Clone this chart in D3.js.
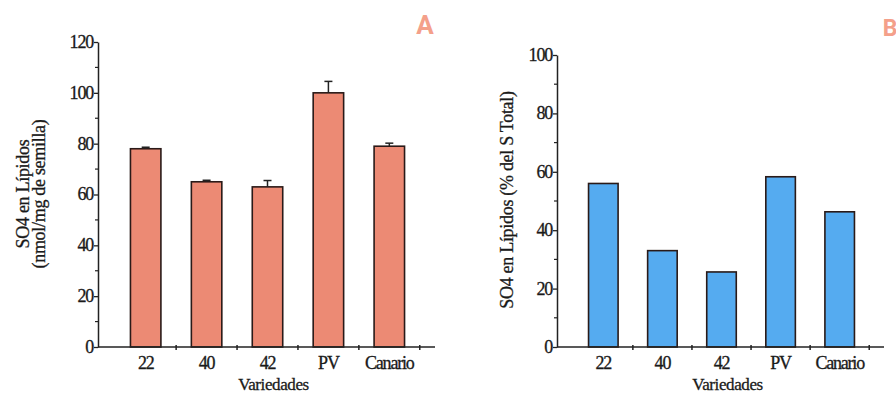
<!DOCTYPE html>
<html>
<head>
<meta charset="utf-8">
<script src="https://cdn.jsdelivr.net/npm/d3@7"></script>
<style>
  body { margin: 0; background: #fff; }
  svg text { font-family: "Liberation Serif", "DejaVu Serif", serif; fill: #1a1a1a; }
</style>
</head>
<body>
<svg id="chart" width="896" height="396"></svg>
<script>
// datos
const variedades = ['22', '40', '42', 'PV', 'Canario'];
const lipidosNmol = [78, 65, 63, 100, 79];     // panel A
const lipidosErr = [0.6, 0.6, 2.5, 4.5, 1.2];
const lipidosPct = [56, 33, 25.7, 58.3, 46.3]; // panel B
const ticksA = [0, 20, 40, 60, 80, 100, 120];
const ticksB = [0, 20, 40, 60, 80, 100];

const svg = d3.select('#chart');

function panel(opt) {
  const g = svg.append('g');
  const x = d3.scaleBand().domain(variedades).range([opt.x0, opt.x1]).padding(0.5);
  const y = d3.scaleLinear().domain([0, opt.max]).range([347, opt.yTop]);

  // barras
  g.selectAll('rect.bar')
    .data(opt.values)
    .join('rect')
    .attr('class', 'bar')
    .attr('x', (d, i) => x(variedades[i]))
    .attr('width', x.bandwidth())
    .attr('y', d => y(d))
    .attr('height', d => y(0) - y(d))
    .attr('fill', opt.color)
    .attr('stroke', '#2a1a18')
    .attr('stroke-width', 1.6);

  // barras de error
  if (opt.err) {
    const eb = g.selectAll('g.err').data(opt.values).join('g').attr('class', 'err');
    eb.append('line')
      .attr('x1', (d, i) => x(variedades[i]) + x.bandwidth() / 2)
      .attr('x2', (d, i) => x(variedades[i]) + x.bandwidth() / 2)
      .attr('y1', d => y(d))
      .attr('y2', (d, i) => y(d + opt.err[i]))
      .attr('stroke', '#222').attr('stroke-width', 1.5);
    eb.append('line')
      .attr('x1', (d, i) => x(variedades[i]) + x.bandwidth() / 2 - 4)
      .attr('x2', (d, i) => x(variedades[i]) + x.bandwidth() / 2 + 4)
      .attr('y1', (d, i) => y(d + opt.err[i]))
      .attr('y2', (d, i) => y(d + opt.err[i]))
      .attr('stroke', '#222').attr('stroke-width', 1.5);
  }

  // eje y
  const yAxis = g.append('g').attr('transform', `translate(${opt.x0 - 2},0)`)
    .call(d3.axisLeft(y).tickValues(opt.ticks).tickSize(4).tickSizeOuter(0));
  yAxis.select('.domain').attr('stroke', '#222').attr('stroke-width', 1.5);
  yAxis.selectAll('.tick line').attr('stroke', '#222').attr('stroke-width', 1.3);
  yAxis.selectAll('.tick text')
    .attr('x', -5)
    .attr('dy', '0.3em')
    .attr('font-size', 18)
    .attr('letter-spacing', -1.2)
    .attr('stroke', '#1a1a1a').attr('stroke-width', 0.3);
  // marcas menores
  const minor = d3.range(10, opt.max, 20);
  yAxis.selectAll('line.minor').data(minor).join('line')
    .attr('class', 'minor')
    .attr('x1', -3).attr('x2', 0)
    .attr('y1', d => y(d)).attr('y2', d => y(d))
    .attr('stroke', '#222').attr('stroke-width', 1.2);

  // eje x
  g.append('line')
    .attr('x1', opt.x0 - 2).attr('x2', opt.x1)
    .attr('y1', y(0)).attr('y2', y(0))
    .attr('stroke', '#222').attr('stroke-width', 1.5);
  const bounds = variedades.map(v => x(v) + x.step() * 0.75);
  g.selectAll('line.xt').data(bounds).join('line')
    .attr('class', 'xt')
    .attr('x1', d => d).attr('x2', d => d)
    .attr('y1', y(0) - 2).attr('y2', y(0) + 3)
    .attr('stroke', '#222').attr('stroke-width', 1.5);
  g.selectAll('text.xl').data(variedades).join('text')
    .attr('class', 'xl')
    .attr('x', d => x(d) + x.bandwidth() / 2)
    .attr('y', 369)
    .attr('text-anchor', 'middle')
    .attr('font-size', 18)
    .attr('letter-spacing', -1.2)
    .attr('stroke', '#1a1a1a').attr('stroke-width', 0.3)
    .text(d => d);
  g.append('text')
    .attr('x', (opt.x0 + opt.x1) / 2 + 6)
    .attr('y', 390)
    .attr('text-anchor', 'middle')
    .attr('font-size', 17)
    .attr('letter-spacing', -0.4)
    .attr('stroke', '#1a1a1a').attr('stroke-width', 0.3)
    .text('Variedades');

  // titulo del eje y
  opt.yLabel.forEach((t, i) => {
    g.append('text')
      .attr('transform', `translate(${opt.yLabelX[i]},${opt.yLabelY}) rotate(-90)`)
      .attr('text-anchor', 'middle')
      .attr('font-size', 18)
      .attr('letter-spacing', -0.3)
      .attr('stroke', '#1a1a1a').attr('stroke-width', 0.3)
      .text(t);
  });

  // letra del panel
  g.append('text')
    .attr('x', opt.letterX).attr('y', opt.letterY)
    .attr('text-anchor', 'middle')
    .style('font-family', 'Roboto, "DejaVu Sans", sans-serif')
    .style('font-weight', 'bold')
    .style('font-size', opt.letterSize + 'px')
    .style('fill', '#f4a08a')
    .text(opt.letter);
}

panel({
  x0: 100, x1: 435, yTop: 42, max: 120, ticks: ticksA,
  values: lipidosNmol, err: lipidosErr, color: '#ec8a74',
  yLabel: ['SO4 en Lípidos', '(nmol/mg de semilla)'], yLabelX: [29, 45], yLabelY: 194,
  letter: 'A', letterX: 425, letterY: 34, letterSize: 26
});

panel({
  x0: 559, x1: 884, yTop: 55, max: 100, ticks: ticksB,
  values: lipidosPct, err: null, color: '#55abf0',
  yLabel: ['SO4 en Lípidos (% del S Total)'], yLabelX: [513], yLabelY: 200,
  letter: 'B', letterX: 890, letterY: 36, letterSize: 23
});
</script>
</body>
</html>
